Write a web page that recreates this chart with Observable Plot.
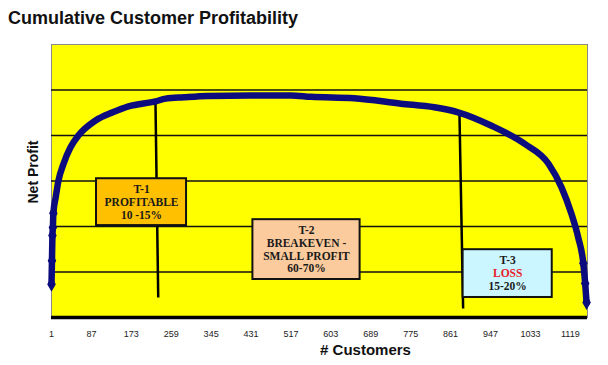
<!DOCTYPE html>
<html>
<head>
<meta charset="utf-8">
<script src="https://cdn.jsdelivr.net/npm/d3@7"></script>
<script src="https://cdn.jsdelivr.net/npm/@observablehq/plot@0.6"></script>
<style>
  html, body { margin: 0; padding: 0; background: #ffffff; }
  #wrap { position: relative; width: 608px; height: 365px; overflow: hidden; }
  #title { position: absolute; left: 8px; top: 9px; font: bold 18px "Liberation Sans", Arial, sans-serif; line-height: 18px; color: #111; white-space: nowrap; }
  #chart { position: absolute; left: 0; top: 0; }
</style>
</head>
<body>
<div id="wrap">
  <div id="chart"></div>
  <div id="title">Cumulative Customer Profitability</div>
</div>
<script>
// ---- data ----
const customers = [1, 2, 3, 4, 5, 10, 16, 27, 42, 59, 96, 133, 167, 225, 247, 286, 338, 430, 517, 560, 653, 754, 826, 877, 948, 1020, 1072, 1100, 1121, 1136, 1147, 1151, 1154];
const netProfit = [0.73, 1.25, 1.80, 1.98, 2.29, 2.64, 3.01, 3.38, 3.74, 4.00, 4.33, 4.51, 4.64, 4.75, 4.81, 4.84, 4.87, 4.88, 4.88, 4.85, 4.82, 4.70, 4.62, 4.51, 4.22, 3.82, 3.38, 2.86, 2.29, 1.76, 1.19, 0.75, 0.33];
const tickLabels = [1, 87, 173, 259, 345, 431, 517, 603, 689, 775, 861, 947, 1033, 1119];
const gridLevels = [1, 2, 3, 4, 5];

// tier separators (customer index, net profit level)
const sepX1 = [225, 880];
const sepX2 = [231, 888];
const sepTop = [4.76, 4.52];
const sepBottom = [0.44, 0.20];

// tier boxes
const tierNames = ["T-1", "T-2", "T-3"];
const tierLines = [
  ["T-1", "PROFITABLE", "10 -15%"],
  ["T-2", "BREAKEVEN -", "SMALL PROFIT", "60-70%"],
  ["T-3", "LOSS", "15-20%"]
];
const tierFill = ["#FFC000", "#FBCB9D", "#CCF6FF"];
const boxX1 = [98, 435, 888];
const boxX2 = [292, 666, 1080];
const boxTop = [3.05, 2.15, 1.49];
const boxBottom = [2.02, 0.835, 0.44];

// ---- build tables ----
const curve = customers.map((c, i) => ({c, p: netProfit[i]}));
const markers = curve.filter((d, i) => i < 5 || i >= curve.length - 3);
const seps = sepX1.map((x, i) => ({x1: x, x2: sepX2[i], y1: sepTop[i], y2: sepBottom[i]}));
const boxes = tierNames.map((t, i) => ({t, x1: boxX1[i], x2: boxX2[i], y1: boxBottom[i], y2: boxTop[i], fill: tierFill[i]}));

const lineH = 12.8;
const textMarks = [];
tierLines.forEach((lines, b) => {
  const n = lines.length;
  lines.forEach((s, i) => {
    const row = [{x: (boxX1[b] + boxX2[b]) / 2, y: (boxTop[b] + boxBottom[b]) / 2, s}];
    textMarks.push(Plot.text(row, {
      x: "x", y: "y", text: "s",
      dy: (i - (n - 1) / 2) * lineH,
      fill: s === "LOSS" ? "#E8202A" : "#1a1a1a",
      fontFamily: "Liberation Serif, Times New Roman, serif",
      fontWeight: "bold",
      fontSize: 11.5,
      lineAnchor: "middle"
    }));
  });
});

const navy = "#0c0c7e";

const chart = Plot.plot({
  width: 608,
  height: 365,
  marginLeft: 51,
  marginRight: 21,
  marginTop: 44,
  marginBottom: 48,
  x: {domain: [1, 1156]},
  y: {domain: [0, 6]},
  style: {background: "transparent", fontFamily: "Liberation Sans, Arial, sans-serif"},
  marks: [
    Plot.frame({fill: "#FFFF00", stroke: "#8a8a8a", strokeWidth: 1}),
    Plot.ruleY(gridLevels, {stroke: "#111", strokeWidth: 1.3}),
    Plot.ruleY([0], {stroke: "#000", strokeWidth: 3.5}),
    Plot.axisX({ticks: tickLabels, tickSize: 0, tickPadding: 13, fontSize: 9, fill: "#222", label: null, tickFormat: d => String(d)}),
    Plot.axisY({ticks: [], label: null, tickSize: 0}),
    Plot.link(seps, {x1: "x1", y1: "y1", x2: "x2", y2: "y2", stroke: "#000", strokeWidth: 2.5}),
    Plot.rect(boxes, {x1: "x1", x2: "x2", y1: "y1", y2: "y2", fill: "fill", stroke: "#111", strokeWidth: 2}),
    ...textMarks,
    Plot.line(curve, {x: "c", y: "p", stroke: navy, strokeWidth: 6.5, curve: "monotone-x"}),
    Plot.dot(markers, {x: "c", y: "p", symbol: "diamond", r: 3.6, fill: navy, stroke: navy}),
    Plot.text(["# Customers"], {frameAnchor: "bottom", dx: 46, dy: 33, lineAnchor: "middle", fontSize: 15, fontWeight: "bold", fill: "#111"}),
    Plot.text(["Net Profit"], {frameAnchor: "left", dx: -18, dy: -9, rotate: -90, textAnchor: "middle", lineAnchor: "middle", fontSize: 14, fontWeight: "bold", fill: "#111"})
  ]
});
document.getElementById("chart").appendChild(chart);
</script>
</body>
</html>
